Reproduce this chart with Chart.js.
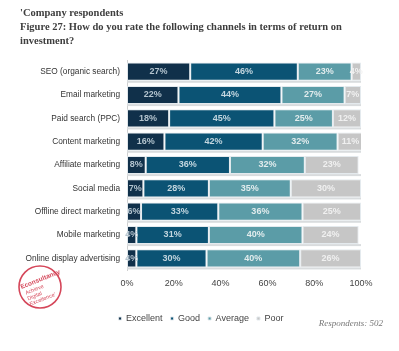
<!DOCTYPE html>
<html>
<head>
<meta charset="utf-8">
<script src="https://cdn.jsdelivr.net/npm/chart.js@4.4.0/dist/chart.umd.min.js"></script>
<style>
  html, body { margin: 0; padding: 0; background: #fff; }
  #wrap { position: relative; width: 399px; height: 351px; overflow: hidden; }
  #chart { position: absolute; left: 0; top: 0; }
  .title { position: absolute; left: 20px; top: 6px; font-family: "Liberation Serif", serif; font-size: 10.5px; line-height: 14px; color: #3e3e3e; font-weight: bold; white-space: nowrap; }
  .resp { position: absolute; right: 16px; top: 318px; font-family: "Liberation Serif", serif; font-style: italic; font-size: 9px; color: #777; }
  #logo { position: absolute; left: 16px; top: 263px; }
</style>
</head>
<body>
<div id="wrap">
  <canvas id="chart" width="399" height="351"></canvas>
  <div class="title">'Company respondents<br>Figure 27: How do you rate the following channels in terms of return on<br>investment?</div>
  <div class="resp">Respondents: 502</div>
  <svg id="logo" width="50" height="50" viewBox="0 0 50 50">
    <circle cx="24" cy="24" r="21" fill="none" stroke="#d5475a" stroke-width="1.6"/>
    <g transform="rotate(-22 24 24)" font-family="Liberation Sans, sans-serif" fill="#d5475a">
      <text x="6" y="19" font-size="6.5" font-weight="bold">Econsultancy</text>
      <text x="8" y="26" font-size="5.5">Achieve</text>
      <text x="8" y="32" font-size="5.5">Digital</text>
      <text x="8" y="38" font-size="5.5">Excellence'</text>
    </g>
  </svg>
</div>
<script>
// channels, top to bottom
const channels = [
  'SEO (organic search)',
  'Email marketing',
  'Paid search (PPC)',
  'Content marketing',
  'Affiliate marketing',
  'Social media',
  'Offline direct marketing',
  'Mobile marketing',
  'Online display advertising'
];

// percentages
const excellent = [27, 22, 18, 16, 8, 7, 6, 4, 4];
const good      = [46, 44, 45, 42, 36, 28, 33, 31, 30];
const average   = [23, 27, 25, 32, 32, 35, 36, 40, 40];
const poor      = [4, 7, 12, 11, 23, 30, 25, 24, 26];

const xTicks = [0, 20, 40, 60, 80, 100];

const fills = ['#10304a', '#0b5374', '#5b9ca7', '#c6c6c6'];
const labelColors = ['#b3c3ce', '#c3d6df', '#e2eced', '#f0f0f0'];

// light shadow under each bar row
const shadowPlugin = {
  id: 'shadow',
  beforeDatasetsDraw(chart) {
    const meta = chart.getDatasetMeta(0);
    const x = chart.scales.x;
    const ctx = chart.ctx;
    ctx.save();
    ctx.fillStyle = '#d9dcde';
    meta.data.forEach(bar => {
      const bottom = bar.y + bar.height / 2;
      ctx.fillRect(x.getPixelForValue(0), bottom, x.getPixelForValue(100) - x.getPixelForValue(0), 2);
    });
    ctx.restore();
  }
};

// percentage text inside segments
const segLabels = {
  id: 'segLabels',
  afterDatasetsDraw(chart) {
    const ctx = chart.ctx;
    ctx.save();
    ctx.font = 'bold 9px "Liberation Sans", Arial, sans-serif';
    ctx.textAlign = 'center';
    ctx.textBaseline = 'middle';
    chart.data.datasets.forEach((ds, i) => {
      const meta = chart.getDatasetMeta(i);
      ctx.fillStyle = labelColors[i];
      meta.data.forEach((bar, j) => {
        const cx = (bar.x + bar.base) / 2;
        ctx.fillText(ds.data[j] + '%', cx, bar.y);
      });
    });
    ctx.restore();
  }
};

// legend is centred on the whole page in the original, not on the plot
const legendShift = {
  id: 'legendShift',
  afterLayout(chart) {
    chart.legend.left = 3;
    chart.legend.right = 399;
  }
};

const makeSet = (label, data, i) => ({
  label: label,
  data: data,
  backgroundColor: fills[i],
  borderColor: 'rgba(225,232,236,0.9)',
  borderWidth: 1,
  borderSkipped: false,
  barPercentage: 0.78,
  categoryPercentage: 1
});

new Chart(document.getElementById('chart'), {
  type: 'bar',
  data: {
    labels: channels,
    datasets: [
      makeSet('Excellent', excellent, 0),
      makeSet('Good', good, 1),
      makeSet('Average', average, 2),
      makeSet('Poor', poor, 3)
    ]
  },
  options: {
    indexAxis: 'y',
    responsive: false,
    animation: false,
    layout: { padding: { left: 0, right: 38, top: 60, bottom: 18 } },
    scales: {
      x: {
        stacked: true,
        min: 0,
        max: 100,
        grid: { display: false },
        border: { display: false },
        afterBuildTicks(scale) {
          scale.ticks = xTicks.map(v => ({ value: v }));
        },
        afterFit(scale) { scale.height = 36; },
        ticks: {
          padding: 0,
          color: '#444',
          font: { family: '"Liberation Sans", Arial, sans-serif', size: 9 },
          callback: v => v + '%'
        }
      },
      y: {
        stacked: true,
        grid: { display: false },
        border: { display: true, color: '#cfcfcf' },
        afterFit(scale) { scale.width = 127; },
        ticks: {
          padding: -1,
          color: '#333',
          font: { family: '"Liberation Sans", Arial, sans-serif', size: 8.3 }
        }
      }
    },
    plugins: {
      legend: {
        position: 'bottom',
        labels: {
          usePointStyle: true,
          pointStyle: 'rect',
          boxWidth: 3,
          boxHeight: 3,
          padding: 8,
          color: '#444',
          font: { family: '"Liberation Sans", Arial, sans-serif', size: 9 }
        }
      },
      tooltip: { enabled: false }
    }
  },
  plugins: [shadowPlugin, segLabels, legendShift]
});
</script>
</body>
</html>
